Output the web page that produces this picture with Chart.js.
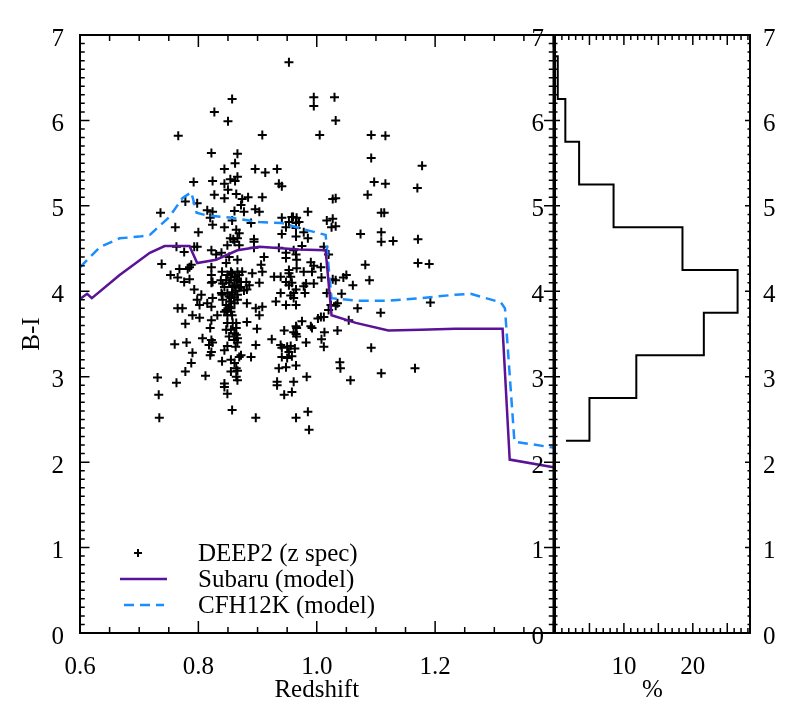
<!DOCTYPE html>
<html>
<head>
<meta charset="utf-8">
<script src="https://cdn.jsdelivr.net/npm/chart.js@4.4.1/dist/chart.umd.min.js"></script>
<style>
  html, body { margin: 0; padding: 0; background: #fff; }
  #wrap { position: relative; width: 789px; height: 711px; overflow: hidden; background: #fff; }
  canvas { position: absolute; top: 0; }
  #main { left: 0; }
  #hist { left: 520px; }
</style>
</head>
<body>
<div id="wrap">
  <canvas id="main" width="560" height="711"></canvas>
  <canvas id="hist" width="269" height="711"></canvas>
</div>
<script>
// DEEP2 spectroscopic sample (redshift, B-I)
const zSpec = [
  0.953, 0.857, 0.827, 0.850, 0.766, 0.908, 0.822, 0.866, 0.862, 0.844,
  0.896, 0.913, 0.933, 0.792, 0.824, 0.854, 0.866, 0.862, 0.844, 0.936,
  0.941, 0.850, 0.827, 0.864, 0.844, 0.874, 0.884, 0.908, 0.798, 0.778,
  0.872, 0.861, 0.877, 0.815, 0.824, 0.896, 0.903, 0.736, 0.820, 0.857,
  0.824, 0.889, 0.941, 0.953, 0.958, 0.761, 0.844, 0.800, 0.864, 0.869,
  0.894, 0.941, 0.854, 0.859, 0.866, 0.948,
  0.995, 1.030, 0.995, 1.032, 1.005, 1.092, 1.116, 1.092, 1.178, 1.097,
  1.116, 1.170, 1.086, 1.027, 1.032, 1.109, 1.114, 0.985, 0.960, 0.966,
  0.965, 0.970, 1.017, 1.027, 1.025, 1.032, 1.074, 1.109, 0.965, 0.978,
  0.965, 0.985, 1.109, 1.129, 1.171,
  0.975, 1.012, 0.961, 0.965, 0.966, 1.020, 0.990, 0.995, 1.007, 1.082,
  1.171, 1.190, 0.953, 0.966, 0.978, 0.992, 0.956, 1.008, 1.032, 1.027,
  1.045, 1.050, 1.061, 1.089, 0.953, 0.978, 0.982, 0.995, 0.965, 0.961,
  0.980, 1.017, 1.042, 0.956, 0.961, 0.965, 1.024, 1.032, 1.035, 1.020,
  1.069, 1.108, 1.192, 1.007, 1.012, 1.002, 0.975, 1.054, 0.965, 0.966,
  0.961, 0.990, 0.992, 1.013, 1.035, 0.965, 0.966, 1.008, 0.982, 1.012,
  0.956, 0.963, 0.958, 1.092, 1.039, 1.040, 0.965, 1.166, 1.109, 0.983,
  0.961, 1.057, 0.958, 0.985, 0.965, 0.987,
  0.763, 0.776, 0.793, 0.798, 0.822, 0.830, 0.839, 0.849, 0.861, 0.869,
  0.852, 0.866, 0.847, 0.894, 0.894, 0.936, 0.948, 0.948, 0.911, 0.906,
  0.908, 0.738, 0.768, 0.782, 0.785, 0.788, 0.753, 0.765, 0.776, 0.785,
  0.822, 0.822, 0.824, 0.822, 0.840, 0.849, 0.857, 0.866, 0.874, 0.855,
  0.847, 0.864, 0.872, 0.852, 0.861, 0.844, 0.869, 0.881, 0.886, 0.882,
  0.857, 0.849, 0.840, 0.866, 0.855, 0.861, 0.847, 0.839, 0.891, 0.903,
  0.928, 0.939, 0.948, 0.953, 0.958, 0.793, 0.805, 0.798, 0.815, 0.824,
  0.802, 0.822, 0.765, 0.773, 0.882, 0.897, 0.908, 0.903, 0.931, 0.939, 0.948,
  0.847, 0.852, 0.855, 0.849, 0.857, 0.790, 0.802, 0.822, 0.832, 0.778,
  0.849, 0.864, 0.882, 0.820, 0.847, 0.855, 0.864, 0.864, 0.899, 0.945,
  0.807, 0.822, 0.824, 0.861, 0.866, 0.924, 0.760, 0.780, 0.818, 0.849,
  0.844, 0.897, 0.939, 0.941, 0.950, 0.953, 0.790, 0.822, 0.820, 0.869,
  0.872, 0.889, 0.941, 0.950, 0.855, 0.840, 0.861, 0.788, 0.864, 0.866,
  0.948, 0.936, 0.778, 0.855, 0.812, 0.864, 0.866, 0.731, 0.763, 0.844,
  0.844, 0.933, 0.933, 0.733, 0.849, 0.945, 0.857, 0.734, 0.897,
  0.838, 0.841, 0.855, 0.861, 0.866, 0.869, 0.858, 0.863, 0.872, 0.877,
  0.855, 0.861, 0.866, 0.852, 0.841, 0.844, 0.855, 0.858, 0.861, 0.866,
  0.863, 0.852
];
const biSpec = [
  6.68, 6.25, 6.10, 5.99, 5.82, 5.83, 5.62, 5.61, 5.50, 5.43,
  5.43, 5.39, 5.43, 5.28, 5.29, 5.31, 5.34, 5.29, 5.26, 5.26,
  5.23, 5.19, 5.13, 5.14, 5.09, 5.08, 5.10, 5.10, 5.03, 5.05,
  5.01, 4.94, 4.93, 4.95, 4.93, 4.96, 4.93, 4.92, 4.86, 4.83,
  4.78, 4.80, 4.86, 4.81, 4.87, 4.75, 4.75, 4.69, 4.72, 4.68,
  4.61, 4.67, 4.62, 4.61, 4.62, 4.75,
  6.27, 6.27, 6.17, 6.00, 5.83, 5.83, 5.82, 5.56, 5.47, 5.28,
  5.26, 5.21, 5.13, 5.08, 5.09, 4.92, 4.92, 4.93, 4.87, 4.86,
  4.80, 4.81, 4.83, 4.85, 4.75, 4.76, 4.67, 4.69, 4.74, 4.69,
  4.64, 4.62, 4.58, 4.59, 4.61,
  4.53, 4.52, 4.48, 4.43, 4.37, 4.43, 4.34, 4.30, 4.28, 4.31,
  4.33, 4.32, 4.25, 4.27, 4.23, 4.23, 4.17, 4.16, 4.13, 4.14,
  4.16, 4.19, 4.07, 4.13, 4.07, 4.06, 4.09, 4.09, 4.02, 3.98,
  3.98, 3.98, 3.97, 3.95, 3.92, 3.84, 3.84, 3.83, 3.86, 3.78,
  3.80, 3.75, 3.87, 3.70, 3.70, 3.68, 3.65, 3.66, 3.59, 3.57,
  3.52, 3.59, 3.57, 3.52, 3.54, 3.50, 3.47, 3.44, 3.40, 3.35,
  3.36, 3.33, 3.24, 3.34, 3.17, 3.10, 3.13, 3.10, 3.04, 3.00,
  2.94, 2.96, 2.82, 2.59, 2.52, 2.38,
  4.52, 4.46, 4.52, 4.52, 4.48, 4.43, 4.45, 4.54, 4.58, 4.54,
  4.40, 4.37, 4.33, 4.58, 4.51, 4.51, 4.45, 4.39, 4.40, 4.31,
  4.23, 4.32, 4.26, 4.26, 4.28, 4.31, 4.19, 4.16, 4.11, 4.14,
  4.28, 4.19, 4.11, 4.10, 4.23, 4.19, 4.21, 4.23, 4.23, 4.16,
  4.13, 4.13, 4.11, 4.10, 4.07, 4.05, 4.04, 4.11, 4.07, 4.02,
  3.99, 3.98, 3.96, 3.96, 3.92, 3.93, 3.84, 3.98, 4.21, 4.10,
  4.17, 4.17, 4.11, 4.21, 4.10, 4.02, 3.96, 3.90, 3.86, 3.92,
  3.84, 3.82, 3.80, 3.80, 3.86, 3.80, 3.82, 3.72, 3.88, 3.98, 3.84,
  3.78, 3.82, 3.76, 3.72, 3.72, 3.72, 3.69, 3.66, 3.72, 3.62,
  3.63, 3.63, 3.64, 3.57, 3.55, 3.55, 3.57, 3.49, 3.56, 3.54,
  3.45, 3.43, 3.40, 3.43, 3.40, 3.44, 3.38, 3.40, 3.37, 3.36,
  3.31, 3.37, 3.37, 3.34, 3.35, 3.29, 3.28, 3.29, 3.25, 3.23,
  3.25, 3.23, 3.23, 3.22, 3.20, 3.18, 3.16, 3.16, 3.10, 3.07,
  3.11, 3.10, 3.06, 3.06, 3.01, 3.00, 2.96, 2.99, 2.93, 2.92,
  2.88, 2.94, 2.90, 2.79, 2.80, 2.79, 2.61, 2.52, 2.52,
  4.13, 4.09, 4.23, 4.17, 4.13, 4.19, 4.05, 4.01, 4.05, 4.01,
  3.88, 3.86, 3.90, 3.94, 3.90, 3.76, 3.80, 3.63, 3.51, 3.45,
  3.35, 3.47
];

// model tracks
const subaruZ  = [0.600, 0.612, 0.620, 0.667, 0.718, 0.743, 0.785, 0.798, 0.830, 0.866, 0.903, 0.970, 1.015, 1.025, 1.066, 1.121, 1.176, 1.234, 1.314, 1.326, 1.400];
const subaruBI = [3.91, 3.97, 3.92, 4.19, 4.45, 4.53, 4.53, 4.33, 4.37, 4.48, 4.52, 4.49, 4.48, 3.72, 3.63, 3.54, 3.55, 3.56, 3.56, 2.03, 1.94];
const cfhZ  = [0.600, 0.634, 0.667, 0.700, 0.718, 0.751, 0.773, 0.788, 0.797, 0.813, 0.857, 0.903, 0.941, 0.970, 1.015, 1.025, 1.066, 1.121, 1.176, 1.234, 1.260, 1.311, 1.318, 1.334, 1.400];
const cfhBI = [4.28, 4.52, 4.62, 4.64, 4.66, 4.87, 5.09, 5.16, 4.92, 4.89, 4.86, 4.81, 4.80, 4.74, 4.66, 3.92, 3.89, 3.89, 3.92, 3.96, 3.97, 3.87, 3.80, 2.24, 2.17];

// histogram of B-I (percent per 0.5 mag bin)
const histEdges = [1.75, 2.25, 2.75, 3.25, 3.75, 4.25, 4.75, 5.25, 5.75, 6.25, 6.75, 7.25];
const histPct   = [1.6, 5.0, 11.8, 21.6, 26.5, 18.5, 8.5, 3.5, 1.5, 0.4, 0];

const xTickLabels = ['0.6', '0.8', '1.0', '1.2'];
const pctTickLabels = ['10', '20'];

const PURPLE = '#5a1296';
const BLUE = '#1a8dff';
const FONT = 'Liberation Serif';
const FSIZE = 25;

Chart.defaults.font.family = FONT;
Chart.defaults.font.size = FSIZE;
Chart.defaults.color = '#000';

// IDL style inward ticks on all four sides + box
function boxTicks(chart, o) {
  const { ctx, chartArea: a, scales } = chart;
  const xs = scales.x, ys = scales.y;
  ctx.save();
  ctx.strokeStyle = '#000';
  ctx.lineWidth = 1.5;
  ctx.beginPath();
  let n = Math.floor((xs.max - xs.min) / o.xMinor + 1e-6);
  for (let i = 0; i <= n; i++) {
    const v = xs.min + i * o.xMinor;
    const p = xs.getPixelForValue(v);
    const major = Math.abs(v / o.xMajor - Math.round(v / o.xMajor)) < 1e-6;
    const len = major ? o.xLen : o.xLen / 2;
    ctx.moveTo(p, a.bottom); ctx.lineTo(p, a.bottom - len);
    ctx.moveTo(p, a.top); ctx.lineTo(p, a.top + len);
  }
  n = Math.floor((ys.max - ys.min) / o.yMinor + 1e-6);
  for (let i = 0; i <= n; i++) {
    const v = ys.min + i * o.yMinor;
    const p = ys.getPixelForValue(v);
    const major = Math.abs(v / o.yMajor - Math.round(v / o.yMajor)) < 1e-6;
    const len = major ? o.yLen : o.yLen / 2;
    ctx.moveTo(a.left, p); ctx.lineTo(a.left + len, p);
    ctx.moveTo(a.right, p); ctx.lineTo(a.right - len, p);
  }
  ctx.stroke();
  ctx.lineWidth = 2;
  ctx.strokeRect(a.left, a.top, a.right - a.left, a.bottom - a.top);
  ctx.restore();
}

const mainFrame = {
  id: 'mainFrame',
  afterDatasetsDraw(chart) {
    boxTicks(chart, { xMinor: 0.05, xMajor: 0.2, xLen: 12, yMinor: 0.1, yMajor: 1, yLen: 9.5 });
    // legend
    const { ctx, chartArea: a } = chart;
    const ds = chart.data.datasets;
    const rows = [ds[2], ds[0], ds[1]];
    const x0 = a.left + 40, tx = a.left + 118;
    const y = a.bottom - 80;
    ctx.save();
    ctx.font = FSIZE + 'px ' + FONT;
    ctx.fillStyle = '#000';
    ctx.textBaseline = 'middle';
    rows.forEach((d, i) => {
      const yy = y + i * 26;
      ctx.setLineDash([]);
      if (d.pointStyle === 'cross') {
        ctx.strokeStyle = '#000';
        ctx.lineWidth = d.borderWidth;
        ctx.beginPath();
        ctx.moveTo(x0 + 18 - 4, yy); ctx.lineTo(x0 + 18 + 4, yy);
        ctx.moveTo(x0 + 18, yy - 4); ctx.lineTo(x0 + 18, yy + 4);
        ctx.stroke();
      } else {
        ctx.strokeStyle = d.borderColor;
        ctx.lineWidth = d.borderWidth;
        ctx.setLineDash(d.borderDash || []);
        ctx.beginPath();
        ctx.moveTo(x0 + (d.borderDash ? 4 : 0), yy);
        ctx.lineTo(x0 + (d.borderDash ? 44 : 47), yy);
        ctx.stroke();
      }
      ctx.fillText(d.label, tx, yy + 1);
    });
    ctx.restore();
  }
};

const histFrame = {
  id: 'histFrame',
  afterDatasetsDraw(chart) {
    boxTicks(chart, { xMinor: 1, xMajor: 5, xLen: 10, yMinor: 0.1, yMajor: 1, yLen: 5 });
  }
};

function pts(xs, ys) { return xs.map((x, i) => ({ x: x, y: ys[i] })); }
function noSidePad(s) { s.height = 78; s.paddingLeft = 0; s.paddingRight = 0; }

new Chart(document.getElementById('main'), {
  type: 'scatter',
  data: {
    datasets: [
      { label: 'Subaru (model)', data: pts(subaruZ, subaruBI), showLine: true, pointRadius: 0,
        borderColor: PURPLE, borderWidth: 2.5, order: 1 },
      { label: 'CFH12K (model)', data: pts(cfhZ, cfhBI), showLine: true, pointRadius: 0,
        borderColor: BLUE, borderWidth: 2.5, borderDash: [10, 6], order: 2 },
      { label: 'DEEP2 (z spec)', data: pts(zSpec, biSpec), pointStyle: 'cross', pointRadius: 4.5,
        borderColor: '#000', borderWidth: 2, order: 3 }
    ]
  },
  options: {
    responsive: false,
    animation: false,
    devicePixelRatio: 1,
    layout: { padding: { top: 35, right: 5, left: 0, bottom: 0 } },
    plugins: { legend: { display: false }, tooltip: { enabled: false } },
    scales: {
      x: {
        type: 'linear', min: 0.6, max: 1.4,
        afterFit: noSidePad,
        grid: { display: false }, border: { display: false },
        ticks: {
          stepSize: 0.2, autoSkip: false, maxRotation: 0, padding: 11, includeBounds: false,
          callback: (v) => xTickLabels.includes(v.toFixed(1)) ? v.toFixed(1) : ''
        },
        title: { display: true, text: 'Redshift', padding: { top: 0, bottom: 6 } }
      },
      y: {
        type: 'linear', min: 0, max: 7,
        afterFit(s) { s.width = 80; },
        grid: { display: false }, border: { display: false },
        ticks: { stepSize: 1, autoSkip: false, padding: 8, labelOffset: 4, callback: (v) => String(v) },
        title: { display: true, text: 'B-I', padding: { top: 17, bottom: 0 } }
      }
    }
  },
  plugins: [mainFrame]
});

// stepped outline of the histogram, bins stacked along B-I
const histLine = [{ x: histPct[0], y: histEdges[1] }];
for (let i = 1; i < histPct.length; i++) {
  histLine.push({ x: histPct[i], y: histEdges[i] });
  histLine.push({ x: histPct[i], y: histEdges[i + 1] });
}

new Chart(document.getElementById('hist'), {
  type: 'scatter',
  data: {
    datasets: [
      { label: 'B-I distribution', data: histLine, showLine: true, pointRadius: 0,
        borderColor: '#000', borderWidth: 2 }
    ]
  },
  options: {
    responsive: false,
    animation: false,
    devicePixelRatio: 1,
    layout: { padding: { top: 35, right: 0, left: 0, bottom: 0 } },
    plugins: { legend: { display: false }, tooltip: { enabled: false } },
    scales: {
      x: {
        type: 'linear', min: 0, max: 28.3,
        afterFit: noSidePad,
        grid: { display: false }, border: { display: false },
        ticks: {
          stepSize: 10, autoSkip: false, maxRotation: 0, padding: 11, includeBounds: false,
          callback: (v) => pctTickLabels.includes(String(v)) ? String(v) : ''
        },
        title: { display: true, text: '%', padding: { top: 0, bottom: 6 } }
      },
      y: {
        type: 'linear', min: 0, max: 7,
        afterFit(s) { s.width = 35; },
        grid: { display: false }, border: { display: false },
        ticks: { stepSize: 1, autoSkip: false, padding: 3, labelOffset: 4, callback: (v) => String(v) }
      },
      y2: {
        type: 'linear', position: 'right', min: 0, max: 7,
        afterFit(s) { s.width = 39; },
        grid: { display: false }, border: { display: false },
        ticks: { stepSize: 1, autoSkip: false, padding: 5, labelOffset: 4, callback: (v) => String(v) }
      }
    }
  },
  plugins: [histFrame]
});
</script>
</body>
</html>
